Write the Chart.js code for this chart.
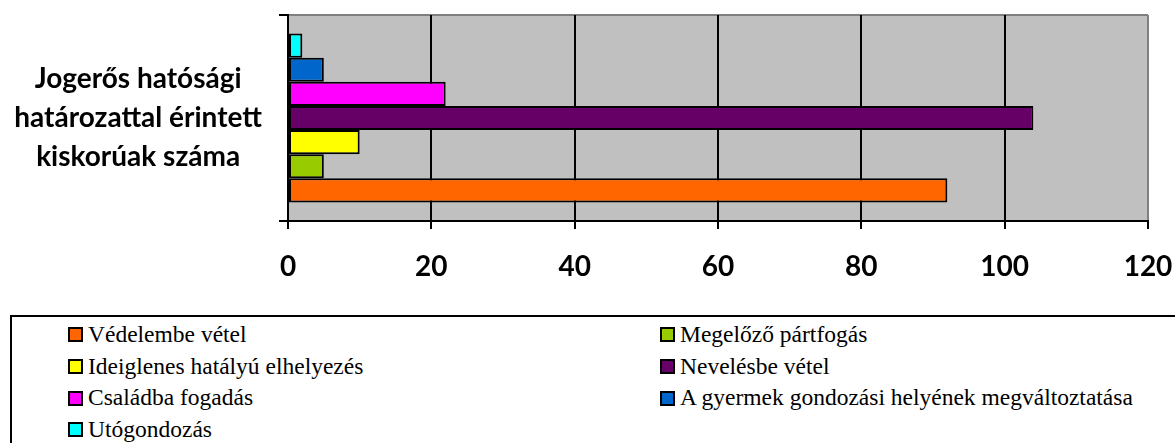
<!DOCTYPE html>
<html>
<head>
<meta charset="utf-8">
<script src="https://cdn.jsdelivr.net/npm/chart.js@4/dist/chart.umd.min.js"></script>
<style>
  html, body { margin: 0; padding: 0; background: #fff; overflow: hidden; }
  #wrap { position: absolute; left: 0; top: 0; width: 1175px; height: 300px; }
  #legend {
    position: absolute; left: 10px; top: 315px; width: 1200px; height: 200px;
    border: 2px solid #000; box-sizing: border-box;
    font-family: "Liberation Serif", "Times New Roman", serif; font-size: 23.5px; color: #000;
  }
  .item { position: absolute; height: 30px; line-height: 30px; white-space: nowrap; }
  .box { display: inline-block; width: 11px; height: 11px; border: 2px solid #000;
         vertical-align: middle; margin-right: 5px; position: relative; top: -2px; }
</style>
</head>
<body>
<div id="wrap"><canvas id="chart"></canvas></div>
<div id="legend"></div>
<script>
// category (y axis label, split into lines)
const categoryLabel = ["Jogerős hatósági", "határozattal érintett", "kiskorúak száma"];

// series, in legend order
const seriesNames = [
  "Védelembe vétel",
  "Megelőző pártfogás",
  "Ideiglenes hatályú elhelyezés",
  "Nevelésbe vétel",
  "Családba fogadás",
  "A gyermek gondozási helyének megváltoztatása",
  "Utógondozás"
];
const seriesValues = [92, 5, 10, 104, 22, 5, 2];
const seriesColors = ["#FF6600", "#99CC00", "#FFFF00", "#660066", "#FF00FF", "#0066CC", "#00FFFF"];

const xTicks = [0, 20, 40, 60, 80, 100, 120];

////////////////////////////////
// Datasets (reversed so the first series sits at the bottom, like Excel)
////////////////////////////////
const datasets = seriesNames.map(function (name, i) {
  return {
    label: name,
    data: [seriesValues[i]],
    backgroundColor: seriesColors[i],
    borderColor: "#000",
    borderWidth: 2,
    borderSkipped: false,
    categoryPercentage: 0.82,
    barPercentage: 1.0
  };
}).reverse();

////////////////////////////////
// Plot area background + grey top edge
////////////////////////////////
const plotBackground = {
  id: "plotBackground",
  beforeDraw: function (chart) {
    const a = chart.chartArea;
    const ctx = chart.ctx;
    ctx.save();
    ctx.fillStyle = "#C0C0C0";
    ctx.fillRect(a.left, a.top, a.right - a.left, a.bottom - a.top);
    ctx.strokeStyle = "#808080";
    ctx.lineWidth = 2;
    ctx.beginPath();
    ctx.moveTo(a.left, a.top);
    ctx.lineTo(a.right, a.top);
    ctx.stroke();
    ctx.restore();
  }
};

new Chart(document.getElementById("chart"), {
  type: "bar",
  data: { labels: [categoryLabel], datasets: datasets },
  plugins: [plotBackground],
  options: {
    indexAxis: "y",
    responsive: true,
    maintainAspectRatio: false,
    animation: false,
    layout: { padding: { top: 15, right: 27, left: 0, bottom: 0 } },
    plugins: { legend: { display: false }, tooltip: { enabled: false } },
    scales: {
      x: {
        min: 0,
        max: 120,
        afterBuildTicks: function (scale) {
          scale.ticks = xTicks.map(v => ({ value: v }));
        },
        afterFit: function (scale) {
          scale.height = 79;
          scale.paddingLeft = 0;
          scale.paddingRight = 0;
        },
        grid: {
          color: ctx => (ctx.tick && ctx.tick.value === 120 ? "#808080" : "#000"),
          tickColor: "#000",
          lineWidth: 2,
          tickLength: 8
        },
        border: { display: true, color: "#000", width: 2 },
        ticks: {
          color: "#000",
          padding: 21,
          maxRotation: 0,
          font: { family: "Lato", size: 28, weight: "bold" }
        }
      },
      y: {
        afterFit: function (scale) {
          scale.width = 288;
          scale.paddingTop = 0;
          scale.paddingBottom = 0;
        },
        grid: {
          offset: true,
          drawOnChartArea: false,
          tickColor: "#000",
          lineWidth: 2,
          tickLength: 9
        },
        border: { display: true, color: "#000", width: 2 },
        ticks: {
          color: "#000",
          crossAlign: "center",
          padding: 17,
          font: { family: "Lato", size: 28, weight: "bold", lineHeight: 1.39 }
        }
      }
    }
  }
});

////////////////////////////////
// Legend (two columns, Excel style)
////////////////////////////////
const legend = document.getElementById("legend");
seriesNames.forEach(function (name, i) {
  const col = i % 2;
  const row = Math.floor(i / 2);
  const item = document.createElement("div");
  item.className = "item";
  item.style.left = (col === 0 ? 56 : 648) + "px";
  item.style.top = (2 + row * 31.7) + "px";
  const box = document.createElement("span");
  box.className = "box";
  box.style.background = seriesColors[i];
  item.appendChild(box);
  item.appendChild(document.createTextNode(name));
  legend.appendChild(item);
});
</script>
</body>
</html>
